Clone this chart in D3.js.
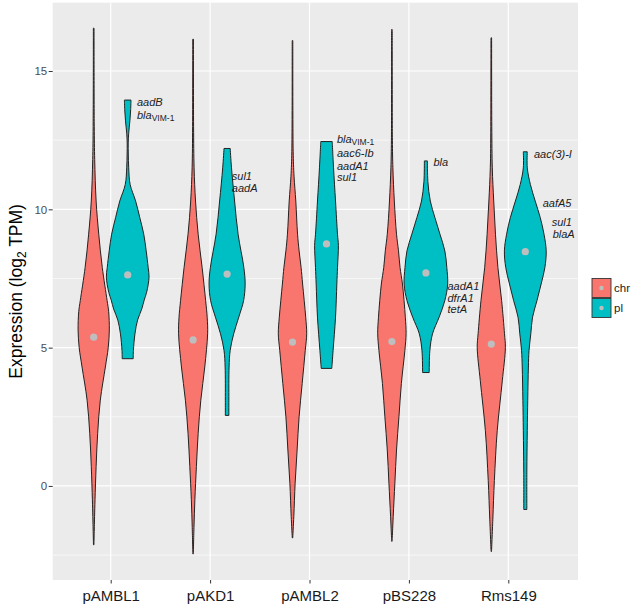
<!DOCTYPE html>
<html>
<head>
<meta charset="utf-8">
<script src="https://cdn.jsdelivr.net/npm/d3@7"></script>
<style>
  html, body { margin: 0; padding: 0; background: #fff; }
  svg { display: block; font-family: "Liberation Sans", Arial, sans-serif; }
</style>
</head>
<body>
<svg id="chart" width="633" height="606"></svg>
<script>
// ---------------- DATA ----------------
const categories = ["pAMBL1", "pAKD1", "pAMBL2", "pBS228", "Rms149"];
const groups = ["chr", "pl"];
const yTicks = [0, 5, 10, 15];
const yMinorTicks = [-2.5, 2.5, 7.5, 12.5];

// violin profiles: [value (log2 TPM), relative density]
const chrProfiles = [
  [[-2.13,0.01],[-1.1,0.04],[-0.5,0.06],[0.7,0.11],[1.9,0.18],[3.1,0.30],[4.3,0.53],[5.0,0.66],[5.64,0.71],[6.3,0.68],[6.7,0.61],[7.9,0.39],[9.1,0.23],[10.3,0.11],[11.8,0.045],[13.0,0.025],[16.55,0.015]],
  [[-2.46,0.01],[-1.5,0.04],[-0.5,0.08],[0.7,0.15],[1.9,0.23],[3.1,0.35],[4.3,0.53],[5.5,0.66],[6.1,0.64],[6.7,0.57],[7.9,0.41],[9.1,0.23],[10.3,0.11],[11.5,0.045],[13.0,0.022],[16.15,0.014]],
  [[-1.88,0.01],[-1.1,0.06],[0.1,0.12],[1.3,0.21],[2.5,0.30],[3.7,0.44],[4.9,0.58],[5.5,0.645],[6.1,0.60],[7.3,0.46],[7.9,0.39],[8.5,0.30],[9.1,0.23],[10.3,0.15],[11.2,0.07],[12.1,0.03],[16.1,0.014]],
  [[-2.0,0.01],[-1.1,0.06],[0.1,0.135],[1.3,0.21],[2.5,0.32],[3.7,0.43],[4.9,0.59],[5.5,0.645],[6.1,0.61],[7.3,0.48],[7.9,0.37],[8.5,0.30],[9.1,0.21],[10.3,0.11],[11.5,0.045],[12.5,0.022],[16.5,0.014]],
  [[-2.37,0.01],[-1.2,0.07],[0.2,0.14],[2.0,0.27],[3.8,0.50],[5.0,0.64],[5.5,0.60],[6.7,0.47],[7.9,0.30],[9.1,0.19],[10.3,0.11],[11.5,0.045],[13.0,0.022],[16.2,0.014]]
];
const plProfiles = [
  [[4.6,0.25],[4.9,0.26],[5.5,0.33],[6.0,0.45],[6.4,0.64],[6.72,0.75],[7.0,0.86],[7.55,0.97],[7.9,0.93],[8.5,0.84],[9.1,0.73],[9.7,0.55],[10.3,0.36],[10.9,0.11],[11.5,0.045],[12.0,0.027],[12.4,0.023],[12.75,0.045],[13.2,0.10],[13.6,0.135],[13.95,0.15]],
  [[2.55,0.08],[3.1,0.08],[4.3,0.09],[4.9,0.14],[5.5,0.30],[6.1,0.53],[6.7,0.75],[7.3,0.82],[7.9,0.76],[9.1,0.50],[10.3,0.34],[11.5,0.20],[12.2,0.14]],
  [[4.25,0.24],[4.9,0.30],[6.1,0.41],[7.3,0.47],[7.9,0.50],[8.7,0.54],[9.1,0.50],[10.3,0.41],[11.5,0.32],[12.45,0.26]],
  [[4.1,0.15],[4.9,0.18],[5.5,0.30],[6.1,0.60],[6.7,0.86],[7.3,0.99],[7.9,0.95],[8.5,0.86],[9.1,0.64],[9.7,0.41],[10.3,0.20],[11.0,0.09],[11.75,0.07]],
  [[-0.85,0.07],[0.5,0.07],[2.0,0.09],[3.1,0.11],[4.3,0.14],[4.9,0.17],[5.5,0.25],[6.1,0.33],[6.7,0.53],[7.3,0.72],[7.9,0.89],[8.5,0.95],[9.1,0.85],[9.7,0.68],[10.3,0.45],[10.9,0.23],[11.5,0.09],[12.08,0.09]]
];
const chrMedians = [5.38, 5.28, 5.20, 5.22, 5.13];
const plMedians  = [7.63, 7.66, 8.75, 7.70, 8.47];

// gene annotations: category, baseline value, text (base|subscript)
const annotCats   = ["pAMBL1","pAMBL1","pAKD1","pAKD1","pAMBL2","pAMBL2","pAMBL2","pAMBL2","pBS228","pBS228","pBS228","pBS228","Rms149","Rms149","Rms149","Rms149"];
const annotValues = [13.75, 13.26, 11.06, 10.63, 12.40, 11.88, 11.43, 11.01, 11.55, 7.09, 6.66, 6.24, 11.84, 10.07, 9.38, 8.96];
const annotTexts  = ["aadB","bla|VIM-1","sul1","aadA","bla|VIM-1","aac6-Ib","aadA1","sul1","bla","aadA1","dfrA1","tetA","aac(3)-I","aafA5","sul1","blaA"];
// layout: horizontal offsets of annotation text from category centre (px)
const annotDx     = [26.3, 26.3, 21.7, 21.7, 27.4, 27.4, 27.4, 27.4, 24.6, 38.6, 38.6, 38.6, 25.7, 34.4, 43.4, 44.4];

// ---------------- STYLE / LAYOUT ----------------
const colors = { chr: "#F8766D", pl: "#00BFC4" };
const panel = { left: 52.7, right: 578, top: 2.7, bottom: 580 };
const svg = d3.select("#chart");

const y = d3.scaleLinear().domain([-3.40, 17.47]).range([panel.bottom, panel.top]);
const x = d3.scalePoint().domain(categories).range([110.7, 508.3]);
const xSub = d3.scaleBand().domain(groups).range([-34, 34]);
const w = d3.scaleLinear().domain([0, 1]).range([0, 22]);

// panel background
svg.append("rect")
  .attr("x", panel.left).attr("y", panel.top)
  .attr("width", panel.right - panel.left).attr("height", panel.bottom - panel.top)
  .attr("fill", "#EBEBEB");

const grid = svg.append("g");
grid.selectAll(".minor").data(yMinorTicks).join("line")
  .attr("x1", panel.left).attr("x2", panel.right)
  .attr("y1", d => y(d)).attr("y2", d => y(d))
  .attr("stroke", "#fff").attr("stroke-width", 0.6);
grid.selectAll(".major").data(yTicks).join("line")
  .attr("x1", panel.left).attr("x2", panel.right)
  .attr("y1", d => y(d)).attr("y2", d => y(d))
  .attr("stroke", "#fff").attr("stroke-width", 1.2);
grid.selectAll(".vmajor").data(categories).join("line")
  .attr("x1", d => x(d)).attr("x2", d => x(d))
  .attr("y1", panel.top).attr("y2", panel.bottom)
  .attr("stroke", "#fff").attr("stroke-width", 1.2);

// violins
const area = d3.area()
  .curve(d3.curveCatmullRom.alpha(0.5))
  .y(d => y(d[0]));

function drawViolin(profile, cx, fill) {
  area.x0(d => cx - w(d[1])).x1(d => cx + w(d[1]));
  svg.append("path")
    .attr("d", area(profile))
    .attr("fill", fill)
    .attr("stroke", "#222")
    .attr("stroke-width", 1)
    .attr("stroke-linejoin", "round");
}
categories.forEach((c, i) => {
  const cxChr = x(c) + xSub("chr") + xSub.bandwidth() / 2;
  const cxPl = x(c) + xSub("pl") + xSub.bandwidth() / 2;
  drawViolin(chrProfiles[i], cxChr, colors.chr);
  drawViolin(plProfiles[i], cxPl, colors.pl);
  svg.append("circle").attr("cx", cxChr).attr("cy", y(chrMedians[i])).attr("r", 3.6).attr("fill", "#BEBEBE");
  svg.append("circle").attr("cx", cxPl).attr("cy", y(plMedians[i])).attr("r", 3.6).attr("fill", "#BEBEBE");
});

// annotations
annotTexts.forEach((t, i) => {
  const [base, sub] = t.split("|");
  const txt = svg.append("text")
    .attr("x", x(annotCats[i]) + annotDx[i])
    .attr("y", y(annotValues[i]))
    .attr("font-size", 11)
    .attr("font-style", "italic")
    .attr("fill", "#222");
  txt.append("tspan").text(base);
  if (sub) {
    txt.append("tspan").attr("dy", 2).attr("font-size", 8.5).attr("font-style", "normal").text(sub);
  }
});

// axes
const yAxis = svg.append("g")
  .attr("transform", `translate(${panel.left},0)`)
  .call(d3.axisLeft(y).tickValues(yTicks).tickSize(4).tickPadding(1.5));
yAxis.select(".domain").remove();
yAxis.selectAll("line").attr("stroke", "#333");
yAxis.selectAll("text").attr("font-size", 11.5).attr("fill", "#4D4D4D")
  .attr("font-family", "Liberation Sans, Arial, sans-serif");

const xAxis = svg.append("g")
  .attr("transform", `translate(0,${panel.bottom})`)
  .call(d3.axisBottom(x).tickSize(3.5).tickPadding(6.5));
xAxis.select(".domain").remove();
xAxis.selectAll("line").attr("stroke", "#333");
xAxis.selectAll("text").attr("font-size", 15).attr("fill", "#1A1A1A")
  .attr("font-family", "Liberation Sans, Arial, sans-serif");

// y title
const yt = svg.append("text")
  .attr("transform", `translate(22,${(panel.top + panel.bottom) / 2}) rotate(-90)`)
  .attr("text-anchor", "middle")
  .attr("font-size", 17.5)
  .attr("fill", "#000");
yt.append("tspan").text("Expression (log");
yt.append("tspan").attr("dy", 4).attr("font-size", 12).text("2");
yt.append("tspan").attr("dy", -4).text(" TPM)");

// legend
const legend = svg.append("g");
groups.forEach((g, i) => {
  const ky = 278 + i * 20;
  legend.append("rect").attr("x", 592).attr("y", ky + 0.5).attr("width", 19).attr("height", 19)
    .attr("fill", colors[g]).attr("stroke", "#333").attr("stroke-width", 0.9);
  legend.append("circle").attr("cx", 601.5).attr("cy", ky + 10).attr("r", 2.2).attr("fill", "#BEBEBE");
  legend.append("text").attr("x", 614).attr("y", ky + 10).attr("dy", "0.35em")
    .attr("font-size", 11.5).attr("fill", "#1A1A1A").text(g);
});
</script>
</body>
</html>
